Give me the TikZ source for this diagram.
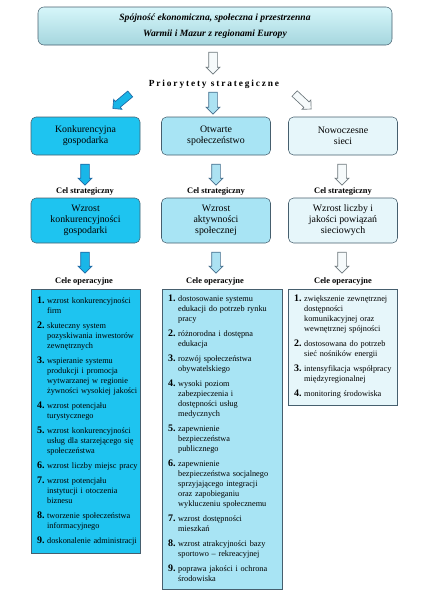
\documentclass[tikz,border=0pt]{standalone}
\usepackage{fontspec}
\setmainfont{Liberation Serif}
\newfontfamily\spacedfont[LetterSpace=20]{Liberation Serif}
\usetikzlibrary{shapes.arrows}

\definecolor{konkFill}{RGB}{30,196,240}
\definecolor{otwFill}{RGB}{168,228,244}
\definecolor{nowFill}{RGB}{230,246,250}
\definecolor{boxLine}{RGB}{70,95,110}
\definecolor{konkArrow}{RGB}{25,182,232}
\definecolor{konkArrowLine}{RGB}{30,105,165}
\definecolor{otwArrow}{RGB}{172,226,242}
\definecolor{otwArrowLine}{RGB}{70,110,140}
\definecolor{nowArrow}{RGB}{246,250,251}
\definecolor{nowArrowLine}{RGB}{110,120,125}
\definecolor{topTop}{RGB}{214,246,250}
\definecolor{topBottom}{RGB}{165,214,222}

\newcommand{\opnum}[1]{{\fontsize{7.5}{7.5}\selectfont\bfseries #1}}
\newcommand{\opskip}{3.75pt}

\tikzset{
  topbox/.style={draw=boxLine, rounded corners=4.5pt, top color=topTop, bottom color=topBottom,
    minimum width=265.5pt, minimum height=28.5pt, align=center,
    font=\fontsize{7.2}{12}\selectfont\bfseries\itshape},
  prioBox/.style={draw=boxLine, rounded corners=3.75pt, minimum width=81.75pt,
    minimum height=28.5pt, align=center, font=\fontsize{7.4}{8.25}\selectfont},
  celBox/.style={prioBox, minimum height=33.75pt},
  opbox/.style={draw=boxLine, inner xsep=4.5pt, inner ysep=2pt,
    font=\fontsize{6.2}{7.5}\selectfont},
  smalltitle/.style={font=\fontsize{6.3}{7}\selectfont\bfseries},
  blockarr/.style={single arrow, draw, inner sep=3pt, minimum height=15.75pt,
    minimum width=10pt, single arrow head extend=2pt, line width=0.5pt},
  konkArr/.style={blockarr, fill=konkArrow, draw=konkArrowLine},
  otwArr/.style={blockarr, fill=otwArrow, draw=otwArrowLine},
  nowArr/.style={blockarr, fill=nowArrow, draw=nowArrowLine}
}

\begin{document}
\begin{tikzpicture}[x=0.75pt,y=-0.75pt,every node/.style={inner sep=1pt}]
  \useasboundingbox (0,0) rectangle (440,600);

  % vision and priorities
  \node [topbox] (top) at (215,26) {Spójność ekonomiczna, społeczna i przestrzenna\\Warmii i Mazur z regionami Europy};
  \node [nowArr, rotate=-90, minimum height=16.5pt] (arrTop) at (213,61) {};
  \node [font=\fontsize{7}{8}\selectfont\spacedfont\bfseries] (prio) at (214,84) {Priorytety strategiczne};
  \node [konkArr, rotate=220, minimum height=17pt, inner sep=2.6pt, minimum width=9.5pt] (arrPK) at (123,100) {};
  \node [otwArr, rotate=-90, minimum height=16.5pt] (arrPO) at (213,101) {};
  \node [nowArr, rotate=-43, minimum height=17pt, inner sep=2.6pt, minimum width=9.5pt] (arrPN) at (301.5,100) {};

  \node [prioBox, fill=konkFill] (prioK) at (85.5,136) {Konkurencyjna\\gospodarka};
  \node [prioBox, fill=otwFill] (prioO) at (216,136) {Otwarte\\społeczeństwo};
  \node [prioBox, fill=nowFill] (prioN) at (343,136) {Nowoczesne\\sieci};

  % strategic goals
  \node [konkArr, rotate=-90] (arrK1) at (85,172.5) {};
  \node [otwArr, rotate=-90] (arrO1) at (216,172.5) {};
  \node [nowArr, rotate=-90] (arrN1) at (342,172.5) {};
  \node [smalltitle] (celK) at (85,192) {Cel strategiczny};
  \node [smalltitle] (celO) at (216,192) {Cel strategiczny};
  \node [smalltitle] (celN) at (343,192) {Cel strategiczny};

  \node [celBox, fill=konkFill] (goalK) at (85.5,220.5) {Wzrost\\konkurencyjności\\gospodarki};
  \node [celBox, fill=otwFill] (goalO) at (216,220.5) {Wzrost\\aktywności\\społecznej};
  \node [celBox, fill=nowFill] (goalN) at (343,220.5) {Wzrost liczby i\\jakości powiązań\\sieciowych};

  % operational goals
  \node [konkArr, rotate=-90] (arrK2) at (85,260.5) {};
  \node [otwArr, rotate=-90] (arrO2) at (216,260.5) {};
  \node [nowArr, rotate=-90] (arrN2) at (342,260.5) {};
  \node [smalltitle] (opTitleK) at (84,281) {Cele operacyjne};
  \node [smalltitle] (opTitleO) at (215,281) {Cele operacyjne};
  \node [smalltitle] (opTitleN) at (343,281) {Cele operacyjne};

  \node [opbox, fill=konkFill, text width=72.75pt, minimum height=198pt] (opK) at (85.5,421) {\noindent
    \begin{tabular}{@{}l@{\hspace{2pt}}l@{}}
      \opnum{1.} & wzrost konkurencyjności\\ & firm\\[\opskip]
      \opnum{2.} & skuteczny system\\ & pozyskiwania inwestorów\\ & zewnętrznych\\[\opskip]
      \opnum{3.} & wspieranie systemu\\ & produkcji i promocja\\ & wytwarzanej w regionie\\ & żywności wysokiej jakości\\[\opskip]
      \opnum{4.} & wzrost potencjału\\ & turystycznego\\[\opskip]
      \opnum{5.} & wzrost konkurencyjności\\ & usług dla starzejącego się\\ & społeczeństwa\\[\opskip]
      \opnum{6.} & wzrost liczby miejsc pracy\\[\opskip]
      \opnum{7.} & wzrost potencjału\\ & instytucji i otoczenia\\ & biznesu\\[\opskip]
      \opnum{8.} & tworzenie społeczeństwa\\ & informacyjnego\\[\opskip]
      \opnum{9.} & doskonalenie administracji
    \end{tabular}};

  \node [opbox, fill=otwFill, text width=81pt, minimum height=225pt] (opO) at (222,439) {\noindent
    \begin{tabular}{@{}l@{\hspace{2pt}}l@{}}
      \opnum{1.} & dostosowanie systemu\\ & edukacji do potrzeb rynku\\ & pracy\\[\opskip]
      \opnum{2.} & różnorodna i dostępna\\ & edukacja\\[\opskip]
      \opnum{3.} & rozwój społeczeństwa\\ & obywatelskiego\\[\opskip]
      \opnum{4.} & wysoki poziom\\ & zabezpieczenia i\\ & dostępności usług\\ & medycznych\\[\opskip]
      \opnum{5.} & zapewnienie\\ & bezpieczeństwa\\ & publicznego\\[\opskip]
      \opnum{6.} & zapewnienie\\ & bezpieczeństwa socjalnego\\ & sprzyjającego integracji\\ & oraz zapobieganiu\\ & wykluczeniu społecznemu\\[\opskip]
      \opnum{7.} & wzrost dostępności\\ & mieszkań\\[\opskip]
      \opnum{8.} & wzrost atrakcyjności bazy\\ & sportowo – rekreacyjnej\\[\opskip]
      \opnum{9.} & poprawa jakości i ochrona\\ & środowiska
    \end{tabular}};

  \node [opbox, fill=nowFill, text width=72.75pt, minimum height=87pt] (opN) at (342.5,347) {\noindent
    \begin{tabular}{@{}l@{\hspace{2pt}}l@{}}
      \opnum{1.} & zwiększenie zewnętrznej\\ & dostępności\\ & komunikacyjnej oraz\\ & wewnętrznej spójności\\[\opskip]
      \opnum{2.} & dostosowana do potrzeb\\ & sieć nośników energii\\[\opskip]
      \opnum{3.} & intensyfikacja współpracy\\ & międzyregionalnej\\[\opskip]
      \opnum{4.} & monitoring środowiska
    \end{tabular}};
\end{tikzpicture}
\end{document}
